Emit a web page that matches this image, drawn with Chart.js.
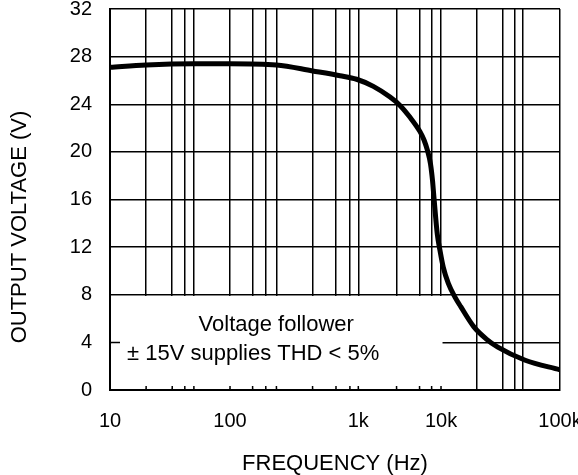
<!DOCTYPE html>
<html lang="en">
<head>
  <meta charset="UTF-8">
  <title>Output Voltage vs Frequency</title>
  <script src="https://cdn.jsdelivr.net/npm/chart.js"></script>
  <style>
    body {
      margin: 0;
      background-color: #fff;
    }

    #chart-container {
      width: 578px;
      height: 475px;
      position: relative;
    }
  </style>
</head>
<body>
  <div id="chart-container">
    <canvas id="voltChart"></canvas>
  </div>

  <script>
    // curve
    const freqs = [10, 20, 50, 100, 230, 440, 720, 970, 1520, 2420, 3190, 4220, 5570, 6230, 6870,
                   7460, 7890, 8230, 9010, 9730, 10450, 11520, 13100, 14650, 18900, 23900, 30000, 51000, 100000];
    const volts = [27.1, 27.3, 27.4, 27.4, 27.3, 26.8, 26.4, 26.1, 25.5, 24.6, 23.9, 22.9, 21.7, 21.0, 20.1,
                   19.0, 17.6, 16.1, 13.1, 11.7, 10.3, 8.95, 7.8, 7.0, 5.3, 4.3, 3.6, 2.5, 1.7];

    // vertical grid lines as drawn on the scan (not quite at 2,3,4,5...)
    const gridFreqs = [10, 20, 33, 42, 50, 100, 150, 190, 230, 440, 670, 860,
                       1000, 2900, 5500, 7700, 10000, 20000, 33000, 42000, 49000, 100000];
    const decades = [10, 100, 1000, 10000, 100000];
    const decadeLabels = ['10', '100', '1k', '10k', '100k'];
    const yTicks = [0, 4, 8, 12, 16, 20, 24, 28, 32];

    const noteLines = ['Voltage follower', '\u00b1 15V supplies THD < 5%'];

    // the printed decades are not evenly spaced, so the log axis is warped per decade
    const decadeStops = [0, 0.2667, 0.5518, 0.7356, 1];

    function warp(lg) {
      const i = Math.min(3, Math.max(0, Math.floor(lg - 1)));
      const t = lg - 1 - i;
      return decadeStops[i] + t * (decadeStops[i + 1] - decadeStops[i]);
    }

    function unwarp(d) {
      let i = 0;
      while (i < 3 && d > decadeStops[i + 1]) i++;
      return 1 + i + (d - decadeStops[i]) / (decadeStops[i + 1] - decadeStops[i]);
    }

    class ScanLogScale extends Chart.LogarithmicScale {
      static id = 'scanLog';
      static defaults = {};

      getPixelForValue(value) {
        if (value === undefined || value === 0) value = this.min;
        if (value === null || isNaN(value)) return NaN;
        return this.getPixelForDecimal(warp(Math.log10(value)));
      }

      getValueForPixel(pixel) {
        return Math.pow(10, unwarp(this.getDecimalForPixel(pixel)));
      }
    }
    Chart.register(ScanLogScale);

    Chart.defaults.font.family = '"Liberation Sans", Arial, sans-serif';
    Chart.defaults.color = '#000';

    const boxEnd = 10000;

    // white note box over the lower-left grid, with the little ticks left on the axis
    const notePlugin = {
      id: 'noteBox',
      beforeDatasetsDraw(chart) {
        const { ctx, chartArea, scales: { x, y } } = chart;
        const left = chartArea.left, bottom = chartArea.bottom;
        const right = x.getPixelForValue(boxEnd) + 1.5;
        const top = y.getPixelForValue(8) + 1.2;

        ctx.save();
        ctx.fillStyle = '#fff';
        ctx.fillRect(left + 1.2, top, right - left - 1.2, bottom - top - 1.2);

        ctx.strokeStyle = '#000';
        ctx.lineWidth = 1.5;
        ctx.beginPath();
        gridFreqs.filter(f => f > 10 && f <= boxEnd).forEach(f => {
          const px = x.getPixelForValue(f);
          ctx.moveTo(px, bottom);
          ctx.lineTo(px, bottom - 4);
        });
        const y4 = y.getPixelForValue(4);
        ctx.moveTo(left, y4);
        ctx.lineTo(left + 10, y4);
        ctx.stroke();

        ctx.fillStyle = '#000';
        ctx.font = '22px "Liberation Sans", Arial, sans-serif';
        ctx.textBaseline = 'middle';
        ctx.textAlign = 'center';
        ctx.fillText(noteLines[0], (left + right) / 2, y.getPixelForValue(5.45));
        ctx.textAlign = 'left';
        ctx.fillText(noteLines[1], left + 17, y.getPixelForValue(3.0));
        ctx.restore();
      },
      afterDraw(chart) {
        const { ctx } = chart;
        ctx.save();
        ctx.translate(20, 227);
        ctx.rotate(-Math.PI / 2);
        ctx.fillStyle = '#000';
        ctx.font = '22px "Liberation Sans", Arial, sans-serif';
        ctx.textAlign = 'center';
        ctx.textBaseline = 'middle';
        ctx.fillText('OUTPUT VOLTAGE (V)', 0, 0);
        ctx.restore();
      }
    };

    new Chart(document.getElementById('voltChart'), {
      type: 'line',
      data: {
        datasets: [{
          label: 'Output voltage',
          data: freqs.map((f, i) => ({ x: f, y: volts[i] })),
          borderColor: '#000',
          borderWidth: 5,
          pointRadius: 0,
          fill: false,
          cubicInterpolationMode: 'monotone'
        }]
      },
      options: {
        responsive: true,
        maintainAspectRatio: false,
        animation: false,
        layout: { padding: { top: 9, right: 18, left: 0, bottom: 0 } },
        plugins: {
          legend: { display: false },
          tooltip: { enabled: false }
        },
        scales: {
          x: {
            type: 'scanLog',
            min: 10,
            max: 100000,
            afterBuildTicks: (scale) => {
              scale.ticks = gridFreqs.map(v => ({ value: v }));
            },
            afterFit: (scale) => {
              scale.height = 85;
              scale.paddingLeft = 0;
              scale.paddingRight = 0;
            },
            ticks: {
              autoSkip: false,
              maxRotation: 0,
              padding: 19,
              font: { size: 20 },
              callback: (v) => {
                const i = decades.indexOf(v);
                return i >= 0 ? decadeLabels[i] : '';
              }
            },
            grid: { color: '#000', lineWidth: 1.5, drawTicks: false },
            border: { color: '#000', width: 2 },
            title: {
              display: true,
              text: 'FREQUENCY (Hz)',
              font: { size: 22, lineHeight: 1 },
              padding: { top: 0, bottom: 0 }
            }
          },
          y: {
            min: 0,
            max: 32,
            afterBuildTicks: (scale) => {
              scale.ticks = yTicks.map(v => ({ value: v }));
            },
            afterFit: (scale) => {
              scale.width = 110;
              scale.paddingTop = 0;
              scale.paddingBottom = 0;
            },
            ticks: { padding: 18, font: { size: 20 } },
            grid: { color: '#000', lineWidth: 1.5, drawTicks: false },
            border: { color: '#000', width: 2 }
          }
        }
      },
      plugins: [notePlugin]
    });
  </script>
</body>
</html>
